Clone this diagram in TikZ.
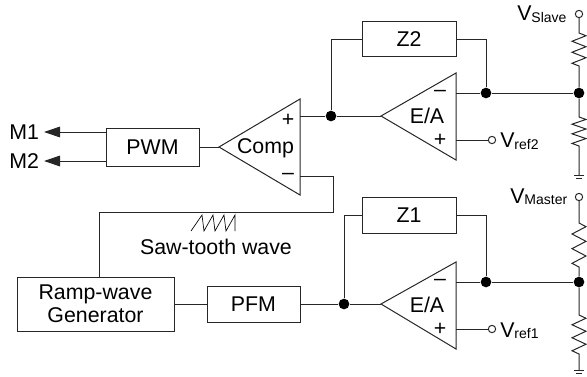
\documentclass[tikz,border=0pt]{standalone}
\usepackage{fontspec}
\setmainfont{Liberation Sans}
\usetikzlibrary{arrows.meta}
\tikzset{
  x=0.75pt,y=-0.75pt,
  wire/.style={draw=black!85,line width=0.75pt,line join=miter},
  blockbox/.style={draw=black!85,line width=0.75pt,fill=white,inner sep=0pt,align=center,font=\fontsize{16}{17.5}\selectfont},
  lbl/.style={inner sep=0pt,font=\fontsize{16}{18}\selectfont,text=black},
  dotn/.style={circle,fill=black,inner sep=0pt,minimum size=8pt},
  term/.style={circle,draw=black!85,fill=white,line width=0.75pt,inner sep=0pt,minimum size=5.5pt},
  arrowl/.style={wire,-{Triangle[length=12pt,width=8pt]}},
}
\newcommand{\vlab}[2]{V\raisebox{-#1}{\fontsize{10.5}{12}\selectfont #2}}
\begin{document}
\begin{tikzpicture}
\useasboundingbox (0,0) rectangle (587,376);
% blocks
\node[blockbox,minimum width=69.75pt,minimum height=28.5pt] (pwm) at (152.5,147.5) {PWM};
\node[blockbox,minimum width=70.5pt,minimum height=26pt] (z2) at (409,39) {Z2};
\node[blockbox,minimum width=70.5pt,minimum height=27pt] (z1) at (409,215) {Z1};
\node[blockbox,minimum width=69.75pt,minimum height=27pt] (pfm) at (253.5,304) {PFM};
\node[blockbox,minimum width=117.75pt,minimum height=40.5pt] (ramp) at (95.5,304) {Ramp-wave\\Generator};
% triangles
\draw[wire] (219,147) -- (300,99) -- (300,195) -- cycle;
\draw[wire] (381,116) -- (456,73) -- (456,160) -- cycle;
\draw[wire] (381,304) -- (456,262) -- (456,349) -- cycle;
\node[lbl] (comp) at (265.5,148) {Comp};
\node[lbl] (ea2) at (427,116) {E/A};
\node[lbl] (ea1) at (427,305) {E/A};
\node[lbl] (p1) at (288,120) {+};
\node[lbl] (m1s) at (288,176) {–};
\node[lbl] (m2s) at (440,93) {–};
\node[lbl] (p2s) at (440,140) {+};
\node[lbl] (m3s) at (440,282) {–};
\node[lbl] (p3s) at (440,329) {+};
% named points
\coordinate (cmpout) at (219,147);
\coordinate (cmpP) at (300,116);
\coordinate (cmpM) at (300,176);
\coordinate (ea2m) at (456,93);
\coordinate (ea2p) at (456,140);
\coordinate (ea2in) at (381,116);
\coordinate (ea1m) at (456,282);
\coordinate (ea1p) at (456,329);
\coordinate (ea1in) at (381,304);
\node[dotn] (j2) at (331,116) {};
\node[dotn] (j2b) at (486,93) {};
\node[dotn] (j2c) at (579,93) {};
\node[dotn] (j1) at (344,304) {};
\node[dotn] (j1b) at (486,282) {};
\node[dotn] (j1c) at (579,282) {};
\node[term] (vs) at (579,14) {};
\node[term] (vm) at (579,197) {};
\node[term] (vr2) at (492,140) {};
\node[term] (vr1) at (492,329) {};
% output arrows
\coordinate (o1) at (44,132);
\coordinate (o2) at (44,161);
\draw[arrowl] (pwm.west |- o1) -- (o1);
\draw[arrowl] (pwm.west |- o2) -- (o2);
\node[lbl,anchor=west] (M1) at (9,132) {M1};
\node[lbl,anchor=west] (M2) at (9,161) {M2};
% wiring
\draw[wire] (cmpout) -- (pwm.east |- cmpout);
\draw[wire] (cmpP) -- (j2) -- (ea2in);
\draw[wire] (j2) |- (z2.west);
\draw[wire] (z2.east) -| (j2b);
\draw[wire] (ea2m) -- (j2b) -- (j2c);
\draw[wire] (ea2p) -- (vr2);
\coordinate (r1) at (333,176);
\coordinate (r2) at (333,212);
\coordinate (r3) at (99,212);
\draw[wire] (cmpM) -- (r1) -- (r2) -- (r3) -- (r3 |- ramp.north);
\draw[wire] (ramp.east) -- (pfm.west);
\draw[wire] (pfm.east) -- (j1) -- (ea1in);
\draw[wire] (j1) |- (z1.west);
\draw[wire] (z1.east) -| (j1b);
\draw[wire] (ea1m) -- (j1b) -- (j1c);
\draw[wire] (ea1p) -- (vr1);
% slave divider
\coordinate (s1) at (579,33);
\coordinate (s2) at (579,66);
\coordinate (s3) at (579,117);
\coordinate (s4) at (579,146);
\coordinate (g2) at (579,175);
\draw[wire] (vs) -- (s1) -- ++(7,2.75) -- ++(-14,5.5) -- ++(14,5.5) -- ++(-14,5.5) -- ++(14,5.5) -- ++(-14,5.5) -- (s2) -- (j2c) -- (s3) -- ++(7,2.4) -- ++(-14,4.8) -- ++(14,4.8) -- ++(-14,4.8) -- ++(14,4.8) -- ++(-14,4.8) -- (s4) -- (g2);
\draw[wire] (574,175) -- (584,175);
\draw[wire] (576,178) -- (582,178);
% master divider
\coordinate (t1) at (579,223);
\coordinate (t2) at (579,267);
\coordinate (t3) at (579,315);
\coordinate (t4) at (579,354);
\coordinate (g1) at (579,370);
\draw[wire] (vm) -- (t1) -- ++(7,3.67) -- ++(-14,7.33) -- ++(14,7.33) -- ++(-14,7.33) -- ++(14,7.33) -- ++(-14,7.33) -- (t2) -- (j1c) -- (t3) -- ++(7,3.25) -- ++(-14,6.5) -- ++(14,6.5) -- ++(-14,6.5) -- ++(14,6.5) -- ++(-14,6.5) -- (t4) -- (g1);
\draw[wire] (574,370) -- (584,370);
\draw[wire] (576,373) -- (582,373);
% labels
\node[lbl,anchor=base west] (vsl) at (517,20) {\vlab{2pt}{Slave}};
\node[lbl,anchor=base west] (vma) at (510,203) {\vlab{1pt}{Master}};
\node[lbl,anchor=base west] (vr2l) at (500,147) {\vlab{2pt}{ref2}};
\node[lbl,anchor=base west] (vr1l) at (500,337) {\vlab{1pt}{ref1}};
\node[lbl] (saw) at (216,247) {Saw-tooth wave};
% sawtooth
\draw[draw=black,line width=0.5pt,line join=miter] (191,231) -- (202,215) -- (204,231) -- (213,215) -- (215,231) -- (224,215) -- (226,231) -- (235,215) -- (235,231);
\end{tikzpicture}
\end{document}
